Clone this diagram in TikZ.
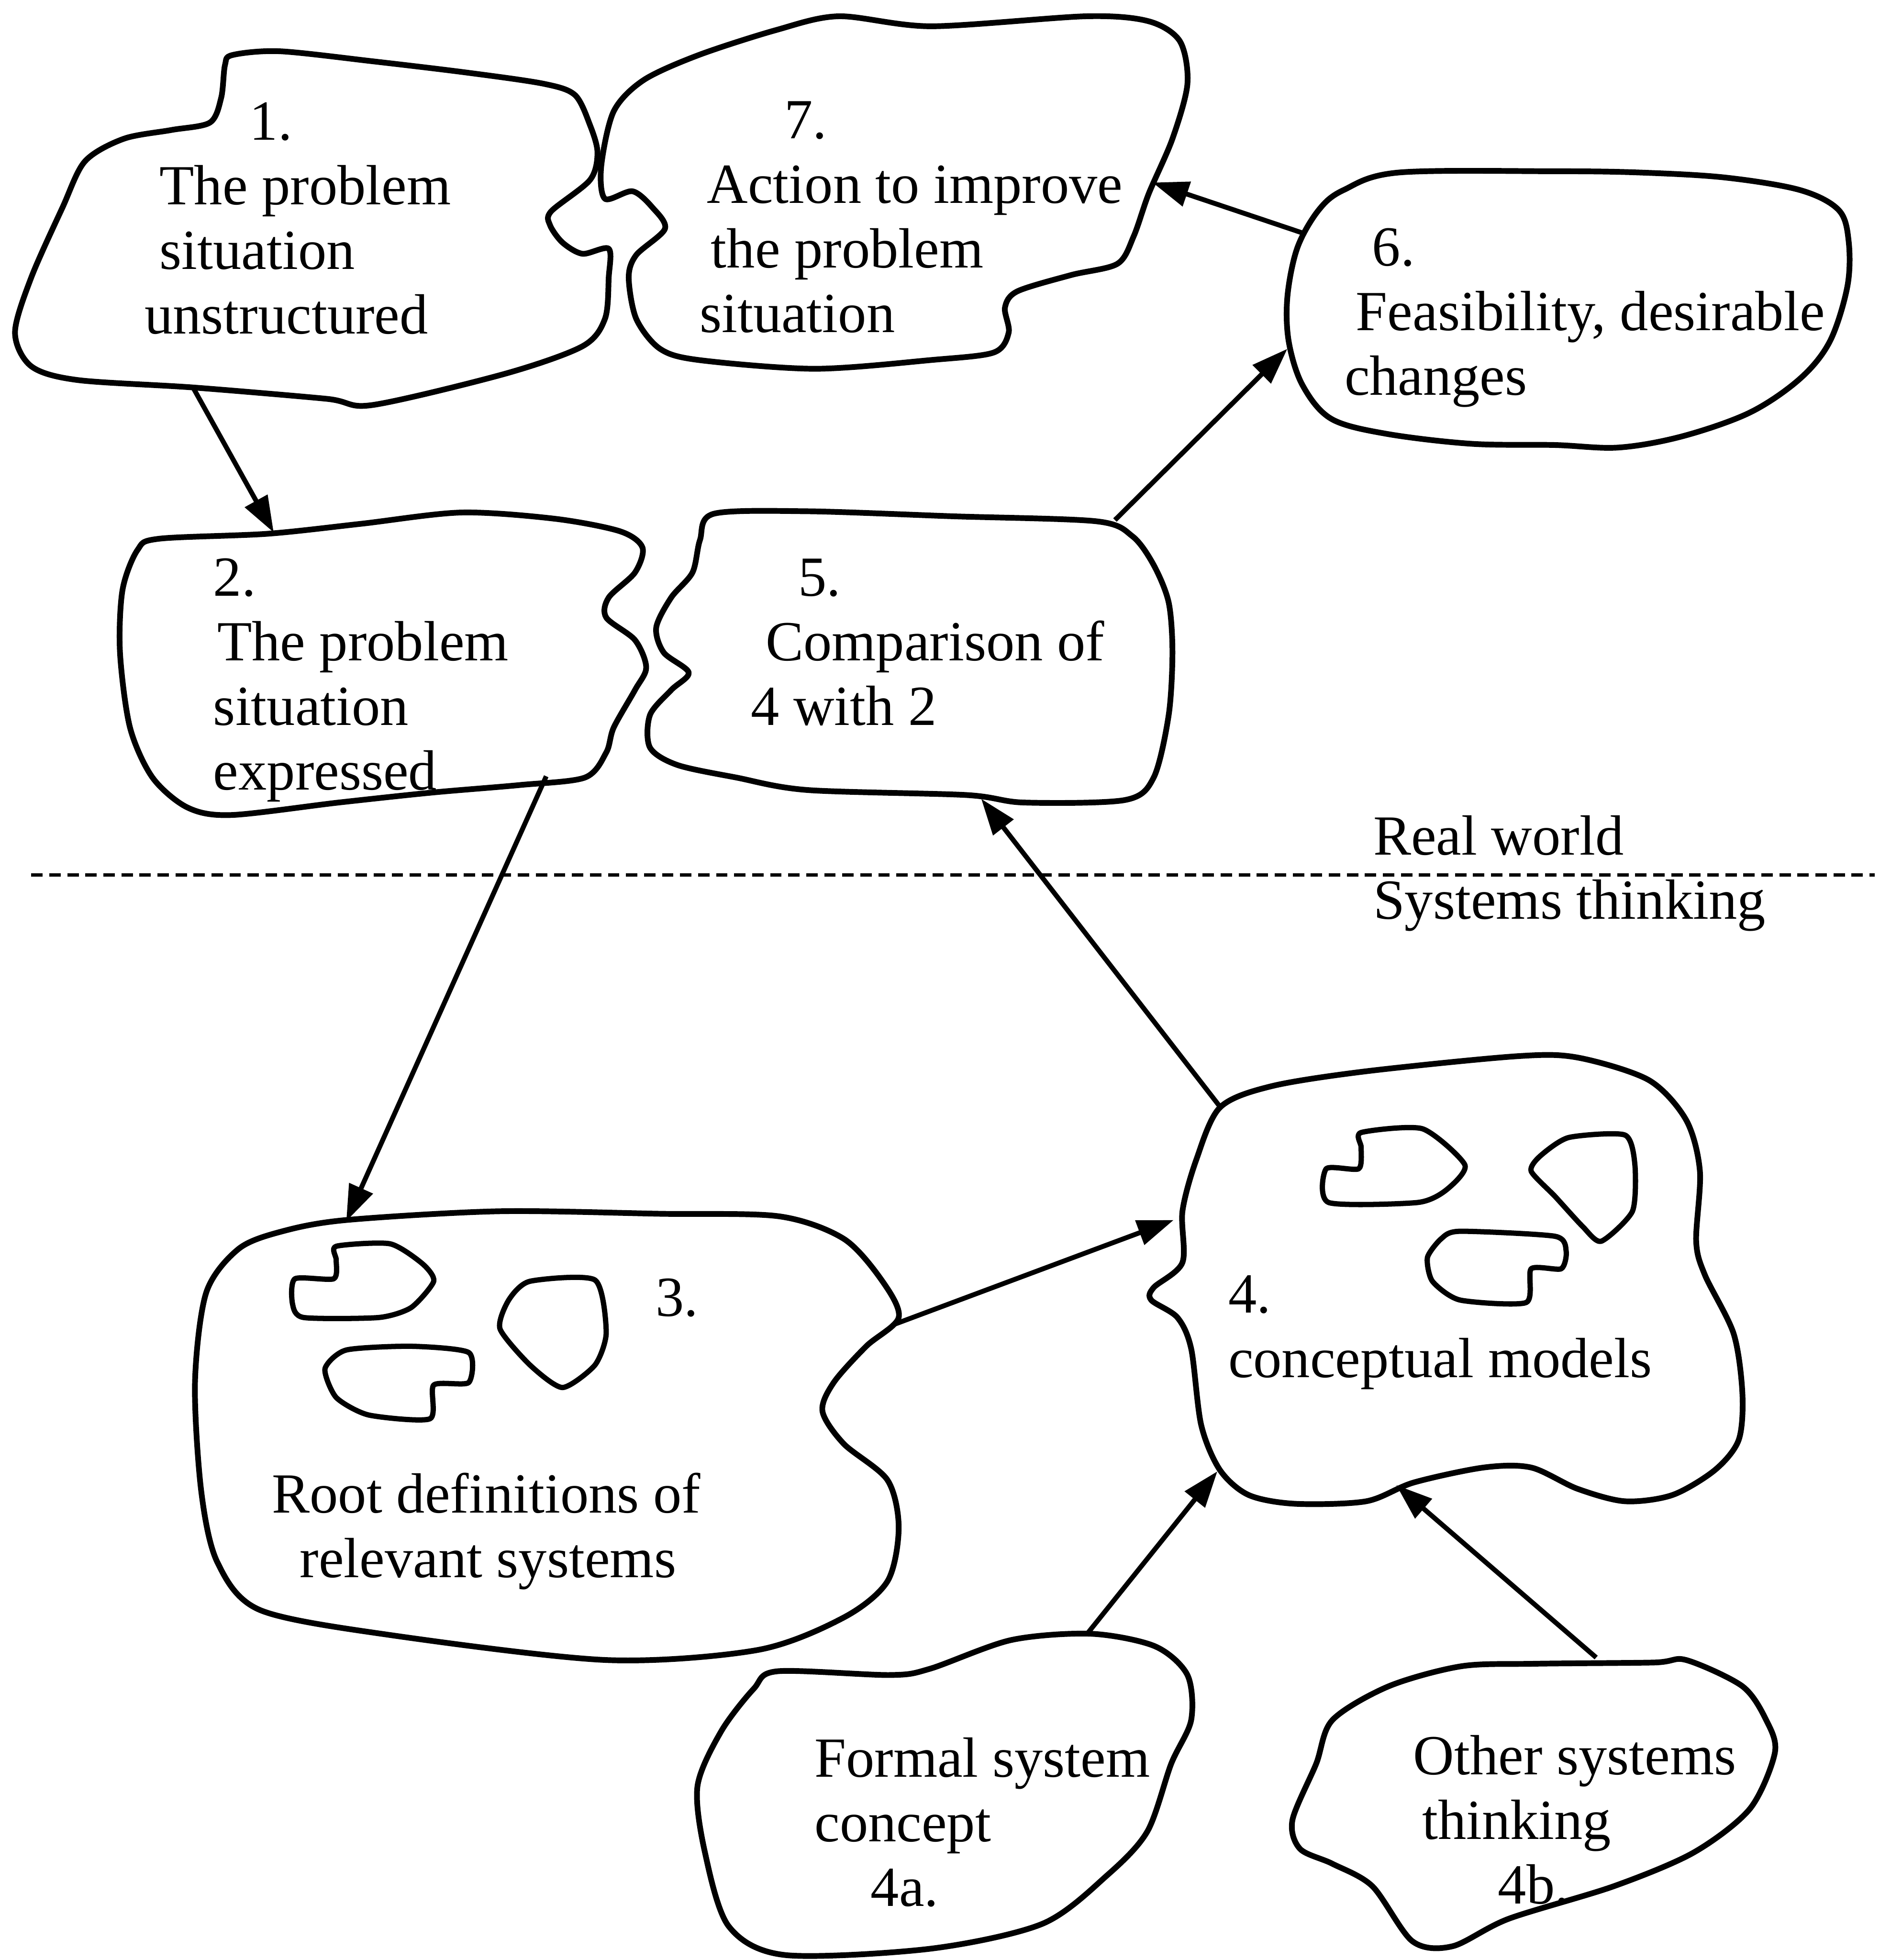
\documentclass[tikz,border=0pt]{standalone}
\usepackage{fontspec}
\setmainfont{Liberation Serif}
\usetikzlibrary{arrows.meta}

\begin{document}
\begin{tikzpicture}[x=0.01cm,y=-0.01cm,
  blob/.style={line width=1.3pt,line join=round},
  cell/.style={line width=1.2pt,line join=round},
  txt/.style={anchor=base west,inner sep=0pt,align=left,font=\fontsize{12.9}{14.7}\selectfont},
  arr/.style={line width=1.1pt,-{Triangle[length=0.29cm,width=0.2cm]}},
  sep/.style={line width=0.75pt,dash pattern=on 2.6pt off 1.5pt}]

\useasboundingbox (0,0) rectangle (1504,1568);

%% real world blobs
% 1. unstructured
\draw[blob] plot[smooth cycle,tension=0.5] coordinates {(186,44) (224,41) (298,49) (373,58) (435,67) (460,76) (472,100) (478,122) (472,144) (441,169) (440,180) (450,194) (466,203) (487,199) (487,222) (484,255) (466,277) (404,299) (298,324) (261,319) (155,310) (62,304) (25,293) (12,266) (25,222) (50,166) (68,129) (99,111) (137,104) (168,98) (177,78) (180,52)};
% 7. action
\draw[blob] plot[smooth cycle,tension=0.5] coordinates {(671,13) (745,21) (869,13) (919,17) (944,33) (950,67) (938,111) (919,155) (907,189) (894,211) (857,220) (814,233) (804,246) (807,266) (795,282) (745,288) (652,295) (559,288) (528,279) (509,255) (503,222) (509,204) (532,183) (522,166) (506,153) (484,159) (481,133) (491,89) (515,64) (559,44) (621,24)};
% 6. feasibility
\draw[blob] plot[smooth cycle,tension=0.55] coordinates {(1119,138) (1244,137) (1312,138) (1380,142) (1440,152) (1471,168) (1479,193) (1478,229) (1464,273) (1440,303) (1400,330) (1346,349) (1295,358) (1244,356) (1177,355) (1109,347) (1065,335) (1042,308) (1031,273) (1030,237) (1038,198) (1055,168) (1075,152)};
% 2. expressed
\draw[blob] plot[smooth cycle,tension=0.5] coordinates {(127,431) (214,427) (289,419) (369,410) (444,415) (496,425) (514,438) (508,458) (487,478) (485,494) (508,512) (517,534) (508,552) (491,582) (485,602) (468,622) (416,628) (346,634) (271,642) (185,652) (150,646) (122,622) (104,582) (96,522) (98,472) (110,440)};
% 5. comparison
\draw[blob] plot[smooth cycle,tension=0.5] coordinates {(571,411) (646,409) (762,413) (877,417) (906,429) (923,452) (935,482) (938,522) (935,572) (923,622) (900,640) (819,642) (773,636) (646,632) (589,622) (542,612) (520,598) (520,572) (537,552) (551,538) (531,522) (525,502) (537,478) (554,458) (560,432)};

%% systems thinking blobs
% 3. root definitions
\draw[blob] plot[smooth cycle,tension=0.5] coordinates {(277,976) (399,969) (528,971) (623,973) (675,991) (706,1025) (719,1054) (693,1077) (667,1106) (658,1129) (675,1155) (710,1184) (719,1222) (710,1265) (675,1294) (606,1320) (485,1328) (312,1308) (208,1288) (174,1250) (161,1193) (156,1106) (165,1034) (191,999) (226,985)};
\draw[cell] plot[smooth cycle,tension=0.4] coordinates {(269,997) (312,995) (338,1011) (347,1025) (329,1046) (303,1054) (243,1054) (234,1043) (236,1023) (267,1023) (269,1008)};
\draw[cell] plot[smooth cycle,tension=0.4] coordinates {(424,1025) (476,1024) (485,1066) (476,1092) (450,1110) (424,1092) (400,1063) (407,1040)};
\draw[cell] plot[smooth cycle,tension=0.4] coordinates {(277,1080) (329,1077) (375,1082) (375,1106) (347,1108) (344,1135) (295,1132) (269,1118) (260,1095)};
% 4. conceptual models
\draw[blob] plot[smooth cycle,tension=0.5] coordinates {(976,886) (1017,869) (1093,857) (1213,845) (1262,846) (1319,864) (1349,896) (1360,937) (1357,993) (1364,1020) (1387,1067) (1394,1115) (1391,1152) (1372,1176) (1338,1196) (1300,1201) (1262,1191) (1225,1174) (1187,1174) (1131,1186) (1093,1201) (1036,1203) (999,1196) (976,1176) (961,1140) (953,1079) (942,1054) (921,1040) (923,1030) (946,1010) (946,969) (957,928)};
\draw[cell] plot[smooth cycle,tension=0.4] coordinates {(1089,906) (1138,903) (1172,932) (1157,952) (1134,962) (1063,962) (1061,935) (1087,935) (1089,918)};
\draw[cell] plot[smooth cycle,tension=0.4] coordinates {(1255,910) (1300,908) (1308,932) (1306,969) (1281,993) (1266,981) (1244,957) (1225,937) (1232,925)};
\draw[cell] plot[smooth cycle,tension=0.4] coordinates {(1168,985) (1244,989) (1253,1001) (1249,1015) (1225,1015) (1221,1042) (1168,1040) (1146,1025) (1142,1006) (1153,991)};
% 4a. formal system concept
\draw[blob] plot[smooth cycle,tension=0.5] coordinates {(622,1337) (712,1340) (744,1335) (809,1312) (873,1307) (924,1317) (950,1340) (953,1376) (937,1411) (918,1465) (886,1500) (834,1539) (744,1559) (628,1564) (583,1541) (564,1482) (558,1429) (577,1385) (603,1351)};
% 4b. other systems thinking
\draw[blob] plot[smooth cycle,tension=0.5] coordinates {(1169,1333) (1227,1331) (1323,1330) (1349,1328) (1394,1349) (1413,1376) (1420,1402) (1400,1447) (1355,1482) (1291,1509) (1207,1535) (1162,1557) (1130,1553) (1098,1509) (1066,1491) (1040,1479) (1034,1456) (1053,1411) (1066,1376) (1111,1349)};

%% texts (anchored on the baseline of the last line)
\node[txt] (t1) at (115,267) {\hspace*{23.9pt}1.\\\hspace*{3.4pt}The problem\\\hspace*{3.4pt}situation\\unstructured};
\node[txt] (t7) at (559,266) {\hspace*{19.3pt}7.\\\hspace*{1.7pt}Action to improve\\\hspace*{2.6pt}the problem\\situation};
\node[txt] (t6) at (1075,316) {\hspace*{6.3pt}6.\\\hspace*{2.6pt}Feasibility, desirable\\changes};
\node[txt] (t2) at (170,632) {2.\\\hspace*{0.9pt}The problem\\situation\\expressed};
\node[txt] (t5) at (600,580) {\hspace*{10.8pt}5.\\\hspace*{3.4pt}Comparison of\\4 with 2};
\node[txt] (t3) at (524,1053) {3.};
\node[txt] (t3b) at (217,1262) {Root definitions of\\\hspace*{6.3pt}relevant systems};
\node[txt] (t4) at (982,1102) {4.\\conceptual models};
\node[txt] (t4a) at (651,1525) {Formal system\\concept\\\hspace*{12.8pt}4a.};
\node[txt] (t4b) at (1130,1523) {Other systems\\\hspace*{2pt}thinking\\\hspace*{19.3pt}4b.};

%% boundary between the two worlds
\coordinate (sepl) at (25,700);
\coordinate (sepr) at (1500,700);
\draw[sep] (sepl) -- (sepr);
\node[txt] (real) at (1098,684) {Real world};
\node[txt] (syst) at (1098,735) {Systems thinking};

%% arrow ends on the blobs
\coordinate (o1) at (155,311);
\coordinate (i2) at (219,426);
\coordinate (o2) at (437,621);
\coordinate (i3) at (277,977);
\coordinate (o3) at (714,1060);
\coordinate (i4) at (939,976);
\coordinate (o4) at (975,884);
\coordinate (i5) at (785,639);
\coordinate (o5) at (892,416);
\coordinate (i6) at (1030,279);
\coordinate (o6) at (1044,187);
\coordinate (i7) at (922,146);
\coordinate (o4a) at (869,1308);
\coordinate (i4a) at (974,1177);
\coordinate (o4b) at (1277,1326);
\coordinate (i4b) at (1117,1188);

\draw[arr] (o1) -- (i2);
\draw[arr] (o2) -- (i3);
\draw[arr] (o3) -- (i4);
\draw[arr] (o4) -- (i5);
\draw[arr] (o5) -- (i6);
\draw[arr] (o6) -- (i7);
\draw[arr] (o4a) -- (i4a);
\draw[arr] (o4b) -- (i4b);

\end{tikzpicture}
\end{document}
